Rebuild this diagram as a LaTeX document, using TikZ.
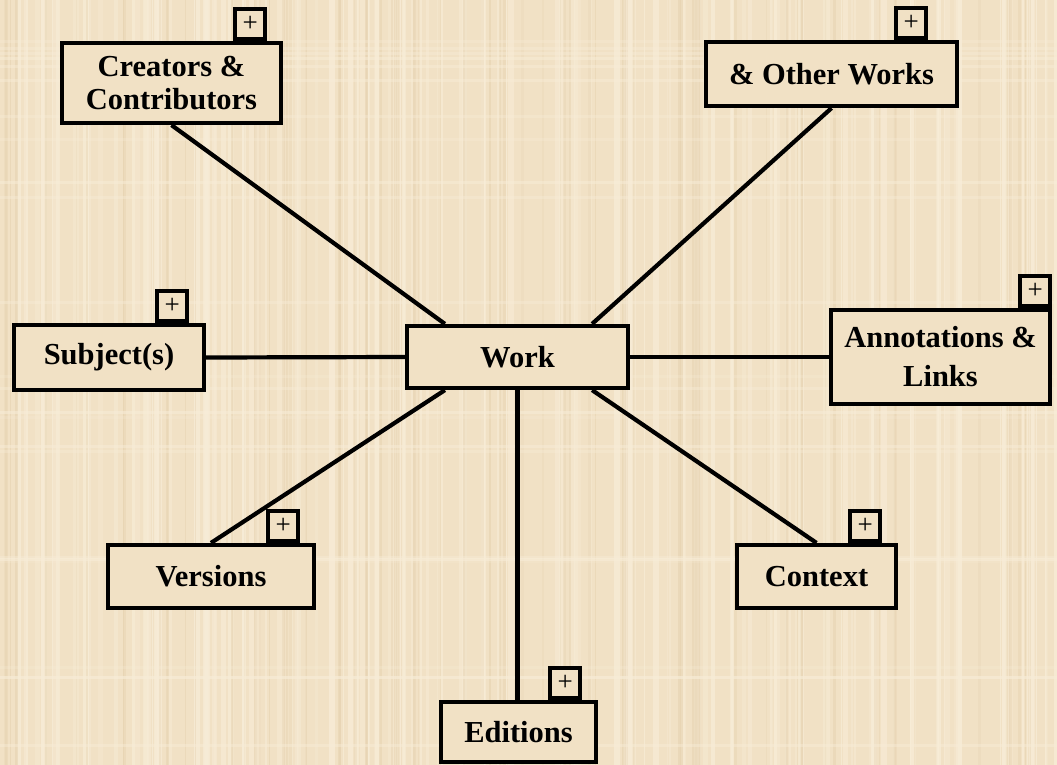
\documentclass[tikz,border=0pt]{standalone}
\usepackage{fontspec}
\setmainfont{Liberation Serif}
\definecolor{paper}{HTML}{F1E1C5}
\definecolor{paperlight}{HTML}{F8EDD8}
\definecolor{paperdark}{HTML}{E6D2B0}
\tikzset{
  box/.style={draw=black, line width=4.2pt, fill=paper, inner sep=0pt, align=center,
    font=\fontsize{30.5}{33}\selectfont\bfseries},
  plusbox/.style={draw=black, line width=3.8pt, fill=paper, inner sep=0pt,
    minimum width=30pt, minimum height=30pt, font=\fontsize{27}{27}\selectfont},
  link/.style={draw=black, line width=4.2pt}
}
\begin{document}
\begin{tikzpicture}[x=1pt,y=-1pt]
\useasboundingbox (0,0) rectangle (1057,765);
\fill[paper] (0,0) rectangle (1057,765);
\pgfmathsetseed{7}
\foreach \i in {1,...,160}{
  \pgfmathsetmacro{\xx}{random(0,1057)}
  \pgfmathsetmacro{\ww}{random(1,6)}
  \pgfmathsetmacro{\op}{0.25+0.5*rnd}
  \fill[paperlight, opacity=\op] (\xx,0) rectangle ++(\ww,765);
}
\foreach \i in {1,...,90}{
  \pgfmathsetmacro{\xx}{random(0,1057)}
  \pgfmathsetmacro{\ww}{random(1,3)}
  \pgfmathsetmacro{\op}{0.2+0.4*rnd}
  \fill[paperdark, opacity=\op] (\xx,0) rectangle ++(\ww,765);
}
\foreach \i in {1,...,25}{
  \pgfmathsetmacro{\yy}{random(0,765)}
  \pgfmathsetmacro{\op}{0.2+0.4*rnd}
  \fill[paperlight, opacity=\op] (0,\yy) rectangle ++(1057,3);
}

% nodes
\node[box, minimum width=219pt, minimum height=80pt] (c) at (171.5,83) {Creators \&\\Contributors};
\node[box, minimum width=251pt, minimum height=64pt] (o) at (831.5,74) {\& Other Works};
\node[box, minimum width=190pt, minimum height=65pt] (s) at (109,357.5) {Subject(s)};
\node[box, minimum width=221pt, minimum height=62pt] (w) at (517.5,357) {Work};
\node[box, minimum width=219pt, minimum height=94pt, font=\fontsize{30.5}{39}\selectfont\bfseries] (a) at (940.5,357) {Annotations \&\\Links};
\node[box, minimum width=206pt, minimum height=63pt] (v) at (211,576.5) {Versions};
\node[box, minimum width=159pt, minimum height=63pt] (x) at (816.5,576.5) {Context};
\node[box, minimum width=155pt, minimum height=60pt] (e) at (518.5,732) {Editions};

% connectors
\draw[link] (c.south) -- ([xshift=40pt]w.north west);
\draw[link] (o.south) -- ([xshift=-38pt]w.north east);
\draw[link] (s.east) -- (w.west);
\draw[link] (w.east) -- (a.west);
\draw[link] (v.north) -- ([xshift=40pt]w.south west);
\draw[link] (x.north) -- ([xshift=-38pt]w.south east);
\draw[link] (w.south) -- (e.north -| w.south);

% plus boxes
\node[plusbox, anchor=south east] (cp) at ([xshift=-16pt]c.north east) {+};
\node[plusbox, anchor=south east] (op) at ([xshift=-31pt]o.north east) {+};
\node[plusbox, anchor=south east] (sp) at ([xshift=-17pt]s.north east) {+};
\node[plusbox, anchor=south east] (ap) at (a.north east) {+};
\node[plusbox, anchor=south east] (vp) at ([xshift=-16pt]v.north east) {+};
\node[plusbox, anchor=south east] (xp) at ([xshift=-16pt]x.north east) {+};
\node[plusbox, anchor=south east] (ep) at ([xshift=-16pt]e.north east) {+};
\end{tikzpicture}
\end{document}
